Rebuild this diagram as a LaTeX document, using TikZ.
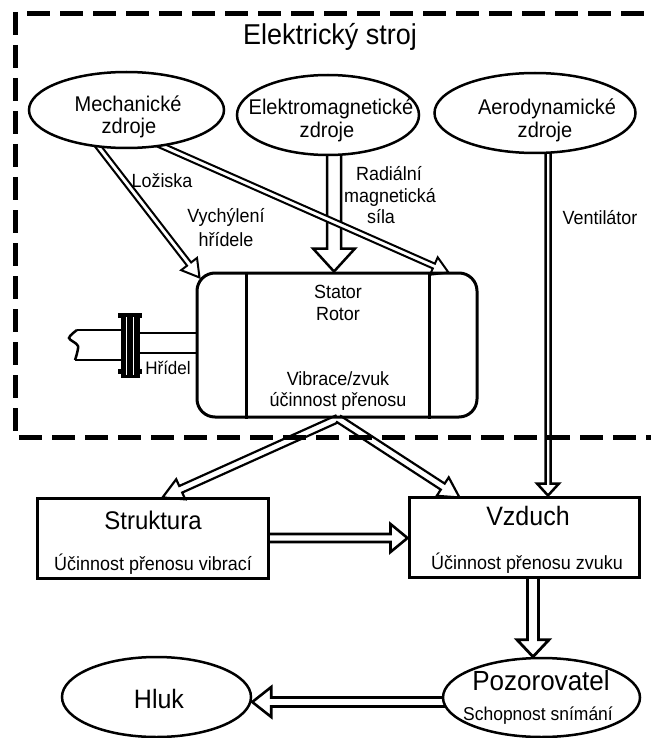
\documentclass[tikz,border=0pt]{standalone}
\usepackage{fontspec}
\setmainfont{Liberation Sans}[FakeStretch=0.94]
\usetikzlibrary{shapes.geometric,calc}
\pgfdeclarelayer{bg}
\pgfsetlayers{bg,main}
\newcommand\fsz[1]{\fontsize{#1}{#1}\selectfont}
% #1 extra options, #2 start, #3 tip, #4 shaft half width, #5 head half width, #6 head length
\newcommand\blockarrow[6][]{%
  \coordinate (ba-h) at ($(#3)!#6!(#2)$);
  \filldraw[barrow,#1] ($(#2)!#4!90:(#3)$) -- ($(ba-h)!#4!90:(#3)$) -- ($(ba-h)!#5!90:(#3)$)
    -- (#3) -- ($(ba-h)!#5!-90:(#3)$) -- ($(ba-h)!#4!-90:(#3)$) -- ($(#2)!#4!-90:(#3)$);
}
\begin{document}
\begin{tikzpicture}[x=1pt,y=-1pt,
  ell/.style={draw, ellipse, line width=2.5pt, fill=white, inner sep=0pt},
  box/.style={draw, line width=3pt, inner sep=0pt},
  barrow/.style={draw=black, fill=white, line width=2.2pt, line join=miter},
  txt/.style={inner sep=0pt, anchor=base},
  tA/.style={txt, font=\fsz{21.3}},
  tB/.style={txt, font=\fsz{19.1}},
  border/.style={line width=5pt, dash pattern=on 23pt off 10pt}
]
\useasboundingbox (0,0) rectangle (651,738);

% dashed machine border
\draw[border] (27,14) -- (651,14);
\draw[border] (15,12) -- (15,437) -- (651,437);

\node[txt, font=\fsz{28.7}] (title) at (330,45) {Elektrický stroj};

% source ellipses
\node[ell, minimum width=195pt, minimum height=76pt] (mech) at (126.5,110) {};
\node[ell, minimum width=182pt, minimum height=80pt] (elm) at (328,115) {};
\node[ell, minimum width=201pt, minimum height=80pt] (aero) at (535,113) {};
\node[tA] (mechT1) at (128,112) {Mechanické};
\node[tA] (mechT2) at (129,134) {zdroje};
\node[tA] (elmT1) at (331,115) {Elektromagnetické};
\node[tA] (elmT2) at (327,138) {zdroje};
\node[tA] (aeroT1) at (547,115) {Aerodynamické};
\node[tA] (aeroT2) at (545,138) {zdroje};

% motor
\node[draw, line width=3pt, rounded corners=18pt, minimum width=280pt, minimum height=144pt, inner sep=0pt] (motor) at (337,345) {};
\draw[line width=3pt] ($(motor.north west)+(51,0)$) -- ($(motor.south west)+(51,0)$);
\draw[line width=3pt] ($(motor.north east)+(-49,0)$) -- ($(motor.south east)+(-49,0)$);
\node[tB] (stator) at (338,298) {Stator};
\node[tB] (rotor) at (338,320) {Rotor};
\node[tB] (vib) at (338,385) {Vibrace/zvuk};
\node[tB] (ucin) at (338,406) {účinnost přenosu};

% shaft and coupling
\draw[line width=2.5pt] (77,330) -- (121,330);
\draw[line width=2.5pt] (75,360) -- (121,360);
\draw[line width=2.5pt] plot[smooth] coordinates {(77,330) (69,338) (78,346) (75,360)};
\draw[line width=2.5pt] (139,333) -- (motor.west |- 0,333);
\draw[line width=2.5pt] (139,353) -- (motor.west |- 0,353);
\fill (120.5,313) rectangle (139.5,378);
\fill (118,313) rectangle (142,318);
\fill (118,369) rectangle (142,374);
\draw[white, line width=0.8pt] (126.7,317) -- (126.7,375);
\draw[white, line width=0.8pt] (133.3,317) -- (133.3,375);
\node[txt, font=\fsz{18.1}] (hridel) at (168,374) {Hřídel};

% labels
\node[tB] (lozT) at (162,187) {Ložiska};
\node[tB] (vychT1) at (226,222) {Vychýlení};
\node[tB] (vychT2) at (226,246) {hřídele};
\node[tB] (radT1) at (389,181) {Radiální};
\node[tB] (radT2) at (390,202) {magnetická};
\node[tB] (radT3) at (381,223) {síla};
\node[tB] (ventT) at (600,224) {Ventilátor};

% lower boxes
\node[box, minimum width=231pt, minimum height=80pt] (str) at (152.5,538) {};
\node[box, minimum width=230pt, minimum height=80pt] (vz) at (524,537) {};
\node[txt, font=\fsz{25.5}] (strT) at (153,529) {Struktura};
\node[tB] (strT2) at (153,570) {Účinnost přenosu vibrací};
\node[txt, font=\fsz{26.6}] (vzT) at (528,525) {Vzduch};
\node[tB] (vzT2) at (527,569) {Účinnost přenosu zvuku};

% bottom ellipses
\node[ell, minimum width=189pt, minimum height=80pt] (hluk) at (156.5,697) {};
\node[ell, minimum width=197pt, minimum height=79pt] (poz) at (541.5,697.5) {};
\node[txt, font=\fsz{26.6}] (hlukT) at (159,708) {Hluk};
\node[txt, font=\fsz{27.7}] (pozT) at (541,690) {Pozorovatel};
\node[txt, font=\fsz{18.6}] (pozT2) at (538,720) {Schopnost snímání};

% connectors
\coordinate (m1s) at ($(mech.center)+(-31,33)$);
\coordinate (m1t) at ($(motor.north west)+(4,6)$);
\coordinate (m2s) at ($(mech.center)+(29,33)$);
\coordinate (m2t) at ($(motor.north east)+(-30,1)$);
\coordinate (e1s) at ($(elm.center)+(6,35)$);
\coordinate (e1t) at (e1s |- motor.north);
\coordinate (a1s) at ($(aero.center)+(13,35)$);
\coordinate (a1t) at (a1s |- vz.north);
\coordinate (mb) at ($(motor.south)+(1,0)$);
\coordinate (b1t) at ($(str.north)+(10,1)$);
\coordinate (b2t) at ($(vz.north west)+(52,2)$);
\coordinate (svs) at (str.east);
\coordinate (svt) at (str.east -| vz.west);
\coordinate (vps) at ($(vz.south)+(9,0)$);
\coordinate (vpt) at (vps |- poz.north);
\coordinate (phs) at ($(poz.center)+(-80,4.5)$);
\coordinate (pht) at (phs -| hluk.east);

\begin{pgfonlayer}{bg}
\blockarrow[line width=2.5pt]{e1s}{e1t}{7pt}{21pt}{23pt}
\blockarrow[line width=2pt]{m1s}{m1t}{2.6pt}{10pt}{17pt}
\blockarrow[line width=2pt]{m2s}{m2t}{2.6pt}{9.5pt}{16pt}
\blockarrow[line width=2.5pt]{a1s}{a1t}{2.5pt}{11pt}{12pt}
\blockarrow{mb}{b1t}{3.6pt}{11pt}{20pt}
\blockarrow{mb}{b2t}{3.6pt}{11pt}{20pt}
\blockarrow[line width=2.6pt]{svs}{svt}{4pt}{14pt}{17pt}
\blockarrow[line width=2.8pt]{vps}{vpt}{5.5pt}{16pt}{17pt}
\blockarrow[line width=2.6pt]{phs}{pht}{4.5pt}{15pt}{19pt}
\end{pgfonlayer}
\end{tikzpicture}
\end{document}
